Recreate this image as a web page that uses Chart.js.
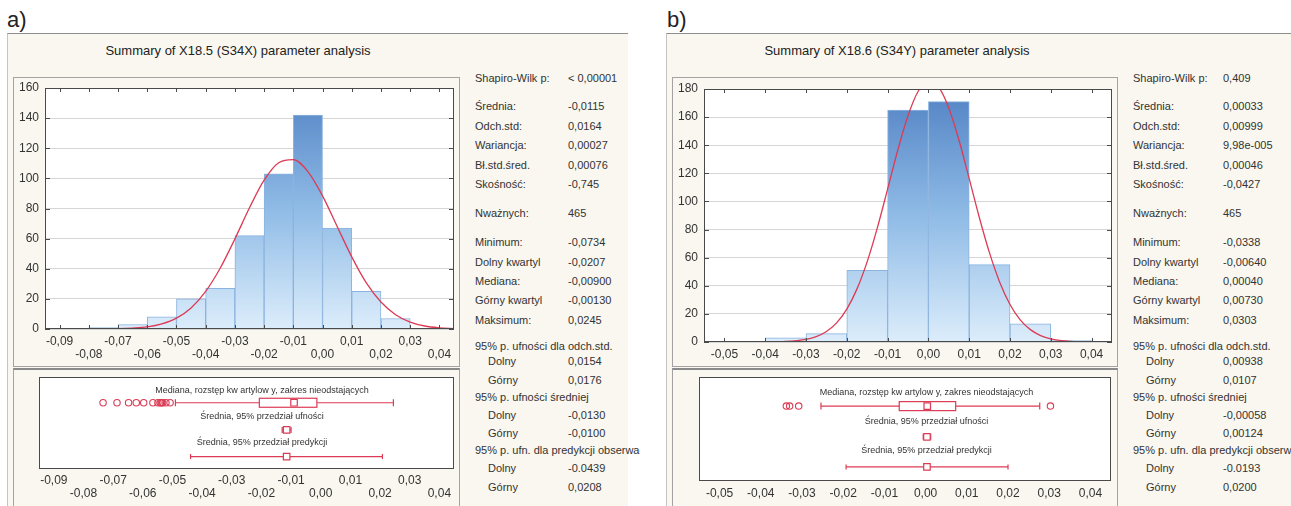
<!DOCTYPE html>
<html>
<head>
<meta charset="utf-8">
<title>Summary of X18.5 / X18.6 parameter analysis</title>
<script src="https://cdn.jsdelivr.net/npm/chart.js@4.4.1/dist/chart.umd.min.js"></script>
<style>
  body { margin: 0; width: 1291px; height: 506px; position: relative; overflow: hidden; background: #fff;
         font-family: 'Liberation Sans', Arial, sans-serif; color: #333; }
  .panel { position: absolute; top: 33px; height: 473px; background: #f9f7ef; box-sizing: border-box;
           border-top: 1px solid #8e8e8e; border-left: 1px solid #c4c4c4; }
  .tag { position: absolute; top: 7px; font-size: 22px; line-height: 26px; color: #222; }
  .title { position: absolute; top: 43px; font-size: 13px; line-height: 16px; color: #222;
           white-space: nowrap; transform: translateX(-50%); }
  .frame { position: absolute; box-sizing: border-box; border: 1px solid #a3a3a3; }
  .frame.low { border-top: 2px solid #8a8a8a; }
  canvas { position: absolute; }
  .stats { position: absolute; top: 0; height: 506px; overflow: hidden; font-size: 11px; }
  .stats div { position: absolute; white-space: nowrap; line-height: 14px; }
</style>
</head>
<body>
<div class="panel" style="left:7px; width:621px"></div>
<div class="panel" style="left:666px; width:625px"></div>
<div class="tag" style="left:7px">a)</div>
<div class="tag" style="left:667px">b)</div>
<div class="title" style="left:238px">Summary of X18.5 (S34X) parameter analysis</div>
<div class="title" style="left:897px">Summary of X18.6 (S34Y) parameter analysis</div>

<div class="frame" style="left:13px; top:77px; width:447px; height:290px"></div>
<div class="frame low" style="left:13px; top:368px; width:447px; height:140px"></div>
<div class="frame" style="left:672px; top:77px; width:446px; height:290px"></div>
<div class="frame low" style="left:672px; top:368px; width:446px; height:140px"></div>

<canvas id="histA" width="447" height="289" style="left:13px; top:77px"></canvas>
<canvas id="boxA" width="447" height="137" style="left:13px; top:369px"></canvas>
<canvas id="histB" width="446" height="289" style="left:672px; top:77px"></canvas>
<canvas id="boxB" width="446" height="137" style="left:672px; top:369px"></canvas>

<div class="stats" id="statsA" style="left:475px; width:165px"></div>
<div class="stats" id="statsB" style="left:1133px; width:158px"></div>

<script>
// ---- a) X18.5 (S34X) ----
const binStartsA = [-0.08, -0.07, -0.06, -0.05, -0.04, -0.03, -0.02, -0.01, 0.00, 0.01, 0.02];
const countsA = [1, 3, 8, 20, 27, 62, 103, 142, 67, 25, 7];
const curveXA = [-0.095, -0.09, -0.085, -0.08, -0.075, -0.07, -0.065, -0.06, -0.055, -0.05, -0.045, -0.04,
                 -0.035, -0.03, -0.025, -0.02, -0.015, -0.01, -0.005, 0.00, 0.005, 0.01, 0.015, 0.02,
                 0.025, 0.03, 0.035, 0.04, 0.045];
const curveYA = [0, 0, 0, 0, 0.1, 0.2, 0.6, 1.4, 3.4, 7.2, 14.0, 25.0,
                 40.5, 59.8, 80.5, 98.8, 110.4, 112.5, 104.5, 88.4, 68.1, 47.9, 30.6, 17.9,
                 9.5, 4.6, 2.0, 0.8, 0.3];
const xTicksA = [-0.09, -0.08, -0.07, -0.06, -0.05, -0.04, -0.03, -0.02, -0.01, 0.00, 0.01, 0.02, 0.03, 0.04];
const yTicksA = [0, 20, 40, 60, 80, 100, 120, 140, 160];
const quartA = [-0.0207, -0.0090, -0.0013];   // Q1, mediana, Q3
const whiskA = [-0.0490, 0.0245];
const outliersA = [-0.0734, -0.0687, -0.0648, -0.0622, -0.0597, -0.0566, -0.0549, -0.0541, -0.0537, -0.0533, -0.0522, -0.0508];
const ciA = [-0.0130, -0.0115, -0.0100];      // dolny, średnia, górny
const predA = [-0.0439, -0.0115, 0.0208];
const statValuesA = ['< 0,00001', '-0,0115', '0,0164', '0,00027', '0,00076', '-0,745', '465',
                     '-0,0734', '-0,0207', '-0,00900', '-0,00130', '0,0245',
                     '', '0,0154', '0,0176', '', '-0,0130', '-0,0100', '', '-0.0439', '0,0208'];

// ---- b) X18.6 (S34Y) ----
const binStartsB = [-0.04, -0.03, -0.02, -0.01, 0.00, 0.01, 0.02, 0.03];
const countsB = [3, 6, 51, 165, 171, 55, 13, 1];
const curveXB = [-0.055, -0.05, -0.045, -0.04, -0.035, -0.03, -0.0275, -0.025, -0.0225, -0.02, -0.0175, -0.015,
                 -0.0125, -0.01, -0.0075, -0.005, -0.0025, 0.00, 0.0025, 0.005, 0.0075, 0.01, 0.0125, 0.015,
                 0.0175, 0.02, 0.0225, 0.025, 0.0275, 0.03, 0.035, 0.04, 0.045];
const curveYB = [0, 0, 0, 0.1, 0.4, 1.9, 3.8, 7.5, 13.6, 23.4, 37.8, 57.2,
                 81.4, 108.8, 136.6, 161.0, 178.4, 185.6, 181.4, 166.5, 143.5, 116.2, 88.4, 63.2,
                 42.4, 26.7, 15.8, 8.8, 4.6, 2.3, 0.5, 0.1, 0];
const xTicksB = [-0.05, -0.04, -0.03, -0.02, -0.01, 0.00, 0.01, 0.02, 0.03, 0.04];
const yTicksB = [0, 20, 40, 60, 80, 100, 120, 140, 160, 180];
const quartB = [-0.0064, 0.0004, 0.0073];
const whiskB = [-0.0254, 0.0277];
const outliersB = [-0.0338, -0.0330, -0.0308, 0.0303];
const ciB = [-0.00058, 0.00033, 0.00124];
const predB = [-0.0193, 0.00033, 0.0200];
const statValuesB = ['0,409', '0,00033', '0,00999', '9,98e-005', '0,00046', '-0,0427', '465',
                     '-0,0338', '-0,00640', '0,00040', '0,00730', '0,0303',
                     '', '0,00938', '0,0107', '', '-0,00058', '0,00124', '', '-0.0193', '0,0200'];

const statLabels = ['Shapiro-Wilk p:', 'Średnia:', 'Odch.std:', 'Wariancja:', 'Bł.std.śred.', 'Skośność:',
                    'Nważnych:', 'Minimum:', 'Dolny kwartyl', 'Mediana:', 'Górny kwartyl', 'Maksimum:',
                    '95% p. ufności dla odch.std.', 'Dolny', 'Górny', '95% p. ufności średniej', 'Dolny', 'Górny',
                    '95% p. ufn. dla predykcji obserwacji', 'Dolny', 'Górny'];
const boxTitles = ['Mediana, rozstęp kw artylow y, zakres nieodstających',
                   'Średnia, 95% przedział ufności', 'Średnia, 95% przedział predykcji'];

// layout
const statRowY = [78, 106, 125.5, 145, 164.5, 184, 213, 242, 261.5, 281, 300, 319.5,
                  346, 361, 380, 397, 415, 433, 450, 468, 487];
const rowY = { box: 28, ci: 57.5, pred: 86.5 };
const titleY = [14.5, 42.5, 71];
const red = '#dc3b55';
const FONT = "'Liberation Sans', Arial, sans-serif";

function tickText(v) {
    return Math.abs(v) < 1e-9 ? '0,00' : v.toFixed(2).replace('.', ',');
}

function fitAxis(size) {
    return scale => {
        if (scale.isHorizontal()) scale.height = size; else scale.width = size;
        scale.paddingLeft = scale.paddingRight = scale.paddingTop = scale.paddingBottom = 0;
    };
}

// white plot area, dark frame and inward tick marks
const plotBox = {
    id: 'plotBox',
    beforeDraw(chart) {
        const { ctx, chartArea: a } = chart;
        ctx.save();
        ctx.fillStyle = '#fff';
        ctx.fillRect(a.left, a.top, a.width, a.height);
        ctx.restore();
    },
    afterDraw(chart, args, opts) {
        const { ctx, chartArea: a, scales } = chart;
        ctx.save();
        ctx.strokeStyle = '#4a4a4a';
        ctx.lineWidth = 1;
        ctx.strokeRect(Math.round(a.left) + 0.5, Math.round(a.top) + 0.5,
                       Math.round(a.width) - 1, Math.round(a.height) - 1);
        if (opts.ticks) {
            ctx.beginPath();
            scales.x.ticks.forEach(t => {
                const px = Math.round(scales.x.getPixelForValue(t.value)) + 0.5;
                ctx.moveTo(px, a.bottom); ctx.lineTo(px, a.bottom - 4);
                ctx.moveTo(px, a.top); ctx.lineTo(px, a.top + 4);
            });
            scales.y.ticks.forEach(t => {
                const py = Math.round(scales.y.getPixelForValue(t.value)) + 0.5;
                ctx.moveTo(a.right, py); ctx.lineTo(a.right - 5, py);
                ctx.moveTo(a.left, py); ctx.lineTo(a.left + 5, py);
            });
            ctx.stroke();
        }
        ctx.restore();
    }
};

// quartile box and row captions of the box panel
const boxRows = {
    id: 'boxRows',
    beforeDatasetsDraw(chart, args, o) {
        const { ctx, scales: { x, y } } = chart;
        const x1 = x.getPixelForValue(o.quart[0]);
        const x2 = x.getPixelForValue(o.quart[2]);
        const yc = y.getPixelForValue(rowY.box);
        ctx.save();
        ctx.fillStyle = '#fff';
        ctx.strokeStyle = red;
        ctx.lineWidth = 1.2;
        ctx.fillRect(x1, yc - 4.5, x2 - x1, 9);
        ctx.strokeRect(x1, yc - 4.5, x2 - x1, 9);
        ctx.restore();
    },
    afterDraw(chart, args, o) {
        const { ctx, scales: { x, y } } = chart;
        ctx.save();
        ctx.font = '9px ' + FONT;
        ctx.fillStyle = '#333';
        ctx.textAlign = 'center';
        ctx.textBaseline = 'middle';
        const cx = x.getPixelForValue(o.labelX);
        boxTitles.forEach((t, i) => ctx.fillText(t, cx, y.getPixelForValue(titleY[i])));
        ctx.restore();
    }
};

function xAxis(ticks, range, height, pad, twoRows) {
    return {
        type: 'linear', min: range[0], max: range[1], offset: false,
        afterBuildTicks: s => { s.ticks = ticks.map(v => ({ value: v })); },
        afterFit: fitAxis(height),
        grid: { display: false, drawTicks: false, offset: false },
        border: { display: false },
        ticks: {
            maxRotation: 0, autoSkip: false, padding: pad, color: '#333',
            font: { family: FONT, size: 12, lineHeight: 1.1 },
            callback: (v, i) => (twoRows && i % 2 === 1) ? ['', tickText(v)] : tickText(v)
        }
    };
}

function barFill(chart) {
    const a = chart.chartArea;
    if (!a) return '#9cc3ea';
    const g = chart.ctx.createLinearGradient(0, a.top, 0, a.bottom);
    g.addColorStop(0, '#5282c4');
    g.addColorStop(0.5, '#8fbbe6');
    g.addColorStop(1, '#dcedfb');
    return g;
}

function drawHist(id, bins, counts, curveX, curveY, xTicks, yTicks, cfg) {
    const w = bins[1] - bins[0];
    new Chart(document.getElementById(id), {
        type: 'bar',
        data: {
            datasets: [
                {
                    type: 'line',
                    data: curveX.map((x, i) => ({ x, y: curveY[i] })),
                    borderColor: red, borderWidth: 1.3, pointRadius: 0,
                    cubicInterpolationMode: 'monotone', order: 0
                },
                {
                    type: 'bar',
                    data: bins.map((b, i) => ({ x: b + w / 2, y: counts[i] })),
                    backgroundColor: c => barFill(c.chart),
                    borderColor: '#8ab3df', borderWidth: 1,
                    barPercentage: 1, categoryPercentage: 1, order: 1
                }
            ]
        },
        options: {
            responsive: false, animation: false, devicePixelRatio: 1,
            layout: { padding: { left: 0, right: cfg.right, top: cfg.top, bottom: 0 } },
            plugins: { legend: { display: false }, tooltip: { enabled: false }, plotBox: { ticks: true } },
            scales: {
                x: xAxis(xTicks, cfg.range, cfg.axisH, 6, cfg.twoRows),
                y: {
                    type: 'linear', min: 0, max: yTicks[yTicks.length - 1],
                    afterBuildTicks: s => { s.ticks = yTicks.map(v => ({ value: v })); },
                    afterFit: fitAxis(32),
                    grid: { color: '#d6d6d6', drawTicks: false },
                    border: { display: false },
                    ticks: { padding: 6, color: '#333', font: { family: FONT, size: 12 } }
                }
            }
        },
        plugins: [plotBox]
    });
}

function drawBox(id, quart, whisk, outliers, ci, pred, xTicks, cfg) {
    const pt = (x, y) => ({ x, y });
    const seg = (data, caps, capR) => ({
        type: 'line', data, borderColor: red, borderWidth: 1.2,
        pointStyle: 'line', pointRotation: 90, pointRadius: caps.map(c => c ? capR : 0),
        pointBorderColor: red, pointBorderWidth: 1.2, order: 2
    });
    new Chart(document.getElementById(id), {
        type: 'scatter',
        data: {
            datasets: [
                {
                    data: [pt(quart[1], rowY.box), pt(ci[1], rowY.ci), pt(pred[1], rowY.pred)],
                    pointStyle: 'rect', pointRadius: 4.6, pointBackgroundColor: '#fff',
                    pointBorderColor: red, pointBorderWidth: 1.2, order: 0
                },
                {
                    data: outliers.map(v => pt(v, rowY.box)),
                    pointStyle: 'circle', pointRadius: 3.2, pointBackgroundColor: 'rgba(255,255,255,0)',
                    pointBorderColor: red, pointBorderWidth: 1.1, order: 1
                },
                seg([pt(whisk[0], rowY.box), pt(quart[0], rowY.box)], [true, false], 3.5),
                seg([pt(quart[2], rowY.box), pt(whisk[1], rowY.box)], [false, true], 3.5),
                seg([pt(ci[0], rowY.ci), pt(ci[2], rowY.ci)], [true, true], 3),
                seg([pt(pred[0], rowY.pred), pt(pred[2], rowY.pred)], [true, true], 2.5)
            ]
        },
        options: {
            responsive: false, animation: false, devicePixelRatio: 1,
            layout: { padding: { left: cfg.left, right: cfg.right, top: 8, bottom: 0 } },
            plugins: {
                legend: { display: false }, tooltip: { enabled: false },
                plotBox: { ticks: false },
                boxRows: { quart, labelX: cfg.labelX }
            },
            scales: {
                x: xAxis(xTicks, cfg.range, cfg.axisH, cfg.pad, cfg.twoRows),
                y: { type: 'linear', min: 0, max: 100, reverse: true, display: false }
            }
        },
        plugins: [plotBox, boxRows]
    });
}

function fillStats(id, values, valueX) {
    const box = document.getElementById(id);
    statLabels.forEach((label, i) => {
        const sub = label === 'Dolny' || label === 'Górny';
        const l = document.createElement('div');
        l.textContent = label;
        l.style.left = (sub ? 13 : 0) + 'px';
        l.style.top = (statRowY[i] - 7) + 'px';
        box.appendChild(l);
        if (values[i]) {
            const v = document.createElement('div');
            v.textContent = values[i];
            v.style.left = valueX + 'px';
            v.style.top = (statRowY[i] - 7) + 'px';
            box.appendChild(v);
        }
    });
}

drawHist('histA', binStartsA, countsA, curveXA, curveYA, xTicksA, yTicksA,
         { range: [-0.095, 0.045], right: 6, top: 11, axisH: 37, twoRows: true });
drawHist('histB', binStartsB, countsB, curveXB, curveYB, xTicksB, yTicksB,
         { range: [-0.055, 0.045], right: 6, top: 12, axisH: 24, twoRows: false });
drawBox('boxA', quartA, whiskA, outliersA, ciA, predA, xTicksA,
        { range: [-0.095, 0.045], left: 26, right: 5, axisH: 37, pad: 5, twoRows: true, labelX: -0.0198 });
drawBox('boxB', quartB, whiskB, outliersB, ciB, predB, xTicksB,
        { range: [-0.055, 0.045], left: 27, right: 7, axisH: 25, pad: 6, twoRows: false, labelX: 0.0002 });
fillStats('statsA', statValuesA, 93);
fillStats('statsB', statValuesB, 90);
</script>
</body>
</html>
